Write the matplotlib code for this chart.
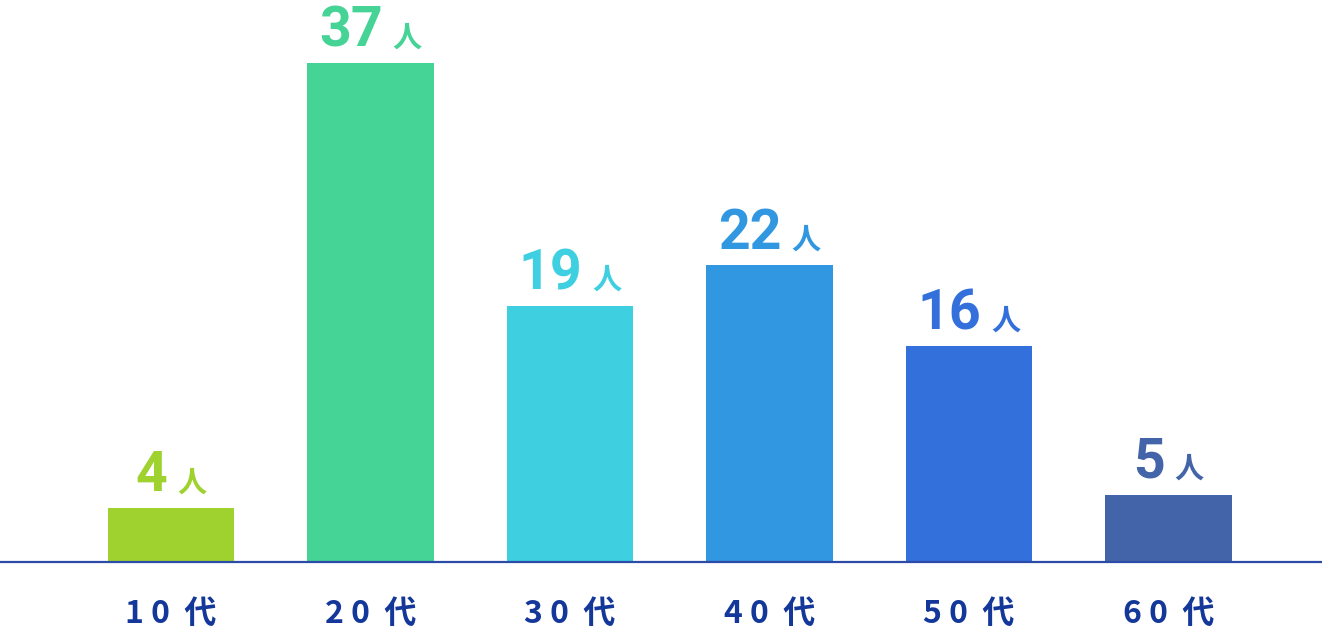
import matplotlib
matplotlib.use('Agg')
import matplotlib.pyplot as plt
from matplotlib.offsetbox import TextArea, HPacker, AnnotationBbox

ages = ['10代', '20代', '30代', '40代', '50代', '60代']
counts = [4, 37, 19, 22, 16, 5]
colors = ['#9fd22e', '#45d396', '#3ecfe1', '#3197e0', '#3370dc', '#4464aa']
unit = '人'

plt.rcParams['font.family'] = ['Noto Sans CJK JP', 'DejaVu Sans']

W, H = 1322, 628
fig = plt.figure(figsize=(W / 100, H / 100), dpi=100)
ax = fig.add_axes([0, 66 / H, 1, (H - 66) / H])

x = list(range(len(ages)))
ax.bar(x, counts, width=0.632, color=colors, zorder=2)

ax.set_xlim(-171 / 199.5, (W - 171) / 199.5)
ax.set_ylim(0, 562 / 13.49)

for s in ['top', 'left', 'right']:
    ax.spines[s].set_visible(False)
ax.spines['bottom'].set_color('#2b4ba6')
ax.spines['bottom'].set_linewidth(1.6)
ax.spines['bottom'].set_zorder(3)
ax.set_yticks([])
ax.set_xticks(x)
# spaced-out tick labels, e.g. "1 0  代"
spaced = [' '.join(a[:-1]) + '  ' + a[-1] for a in ages]
ax.set_xticklabels(spaced, fontsize=23, fontweight='bold', color='#14379a',
                   family='Noto Sans CJK JP')
ax.tick_params(axis='x', length=0, pad=26)

for xi, v, c in zip(x, counts, colors):
    num = TextArea(str(v), textprops=dict(family='Roboto', fontweight='bold',
                                          fontsize=40, color=c))
    jin = TextArea(unit, textprops=dict(family='Noto Sans CJK JP', fontweight='bold',
                                        fontsize=21, color=c))
    box = HPacker(children=[num, jin], align='baseline', pad=0, sep=7)
    ab = AnnotationBbox(box, (xi, v), xybox=(0, 4), xycoords='data',
                        boxcoords='offset points', box_alignment=(0.5, 0),
                        frameon=False, annotation_clip=False)
    ax.add_artist(ab)

fig.savefig('out.png', dpi=100)
